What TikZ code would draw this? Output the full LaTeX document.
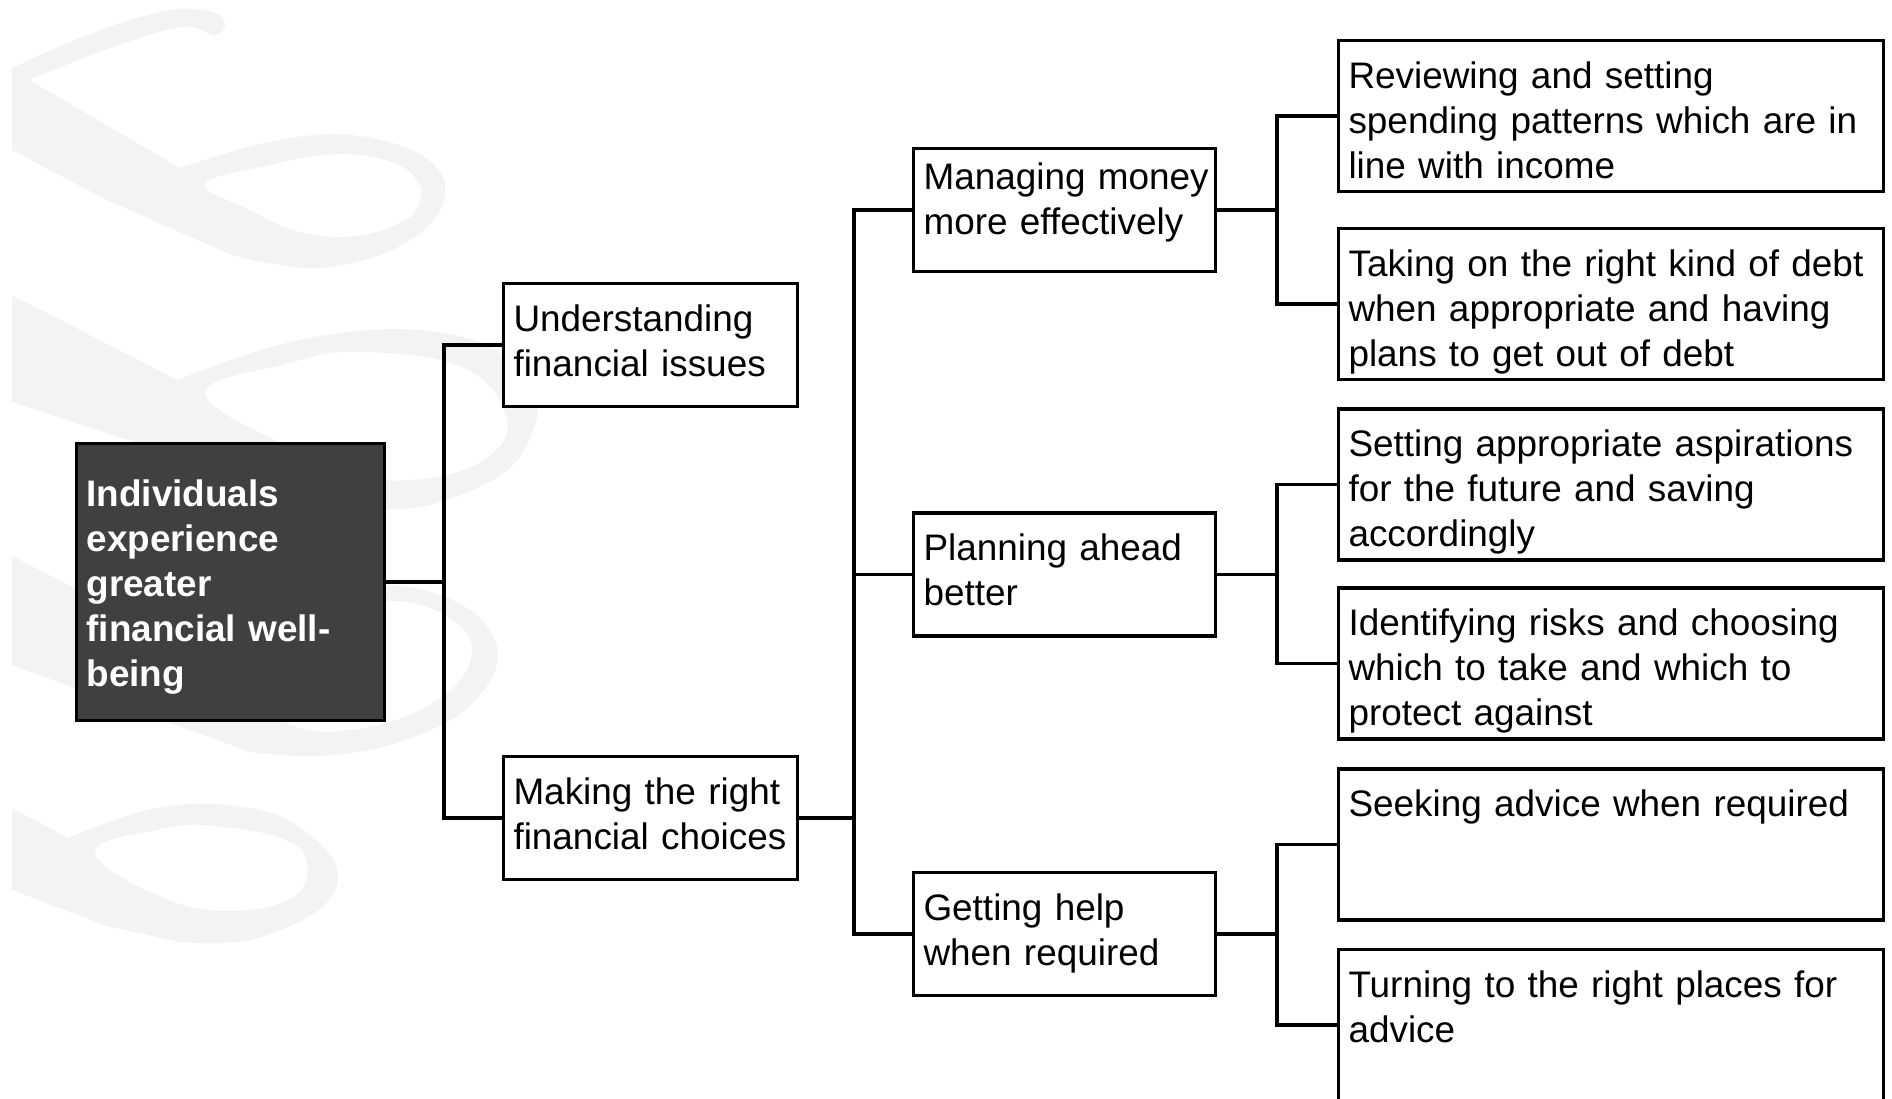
\documentclass[tikz,border=0pt]{standalone}
\usepackage{fontspec}
\setmainfont{Liberation Sans}
\definecolor{rootfill}{RGB}{64,64,64}
\definecolor{wmgrey}{RGB}{243,243,243}
\tikzset{
  box/.style={draw=black,line width=3.5pt,fill=white,align=left,
              inner xsep=10pt,inner ysep=8pt,font=\fontsize{36.9}{45}\selectfont},
  topbox/.style={box,text height=39.5pt},
  rootbox/.style={box,fill=rootfill,text=white,text width=288pt,
                  text height=55pt,text depth=206pt,
                  font=\fontsize{36.9}{45}\selectfont\bfseries},
  lvlbox/.style={topbox,text width=274pt,text depth=67.5pt},
  midbox/.style={topbox,text width=282pt,text depth=67.5pt},
  leafbox/.style={topbox,text width=525pt,text depth=95.5pt},
  link/.style={line width=3.5pt},
  wm/.style={fill=wmgrey,draw=none},
}

\begin{document}
\begin{tikzpicture}[x=1pt,y=-1pt]
  \useasboundingbox (0,0) rectangle (1892,1098);

  % watermark
  \fill[wm,even odd rule]
    (12,150) -- plot[smooth,tension=0.6] coordinates {(12,68) (70,42) (130,20) (180,9) (215,13) (225,25) (214,35) (182,27) (110,48) (29,80)}
    -- (180,168)
    -- plot[smooth,tension=0.6] coordinates {(180,168) (260,144) (336,134) (405,147) (440,172) (444,200) (425,229) (380,255) (318,268) (262,262) (232,255)}
    -- (107,200) -- cycle
    plot[smooth cycle,tension=0.7] coordinates {(205,184) (270,165) (336,154) (392,162) (418,182) (420,201) (404,221) (355,236) (300,232) (250,210)};
  \fill[wm,even odd rule]
    (12,402) -- (12,295) -- (177,380)
    -- plot[smooth,tension=0.6] coordinates {(177,380) (286,343) (393,329) (482,343) (530,385) (536,421) (505,472) (421,507) (339,505) (290,493)}
    -- cycle
    plot[smooth cycle,tension=0.7] coordinates {(205,393) (286,364) (357,352) (464,368) (507,421) (482,461) (421,479) (357,475) (286,446)};
  \fill[wm,even odd rule]
    (12,665) -- (12,556) -- (177,640)
    -- plot[smooth,tension=0.6] coordinates {(177,640) (290,598) (393,585) (470,610) (498,658) (464,711) (390,745) (314,756) (250,752)}
    -- cycle
    plot[smooth cycle,tension=0.7] coordinates {(200,652) (290,614) (393,601) (455,622) (471,658) (436,701) (357,729) (280,720)};
  \fill[wm,even odd rule]
    (12,890) -- (12,808) -- (68,838)
    -- plot[smooth,tension=0.6] coordinates {(68,838) (143,811) (214,804) (286,819) (336,865) (321,908) (250,940) (179,942)}
    -- (107,926) -- cycle
    plot[smooth cycle,tension=0.7] coordinates {(95,852) (161,829) (214,826) (286,840) (307,865) (293,897) (232,911) (161,897)};

  \node[rootbox] (root) at (230.5,582)
    {Individuals\\experience\\greater\\financial well-\\being};

  \node[lvlbox] (underst) at (650.5,345) {Understanding\\financial issues};
  \node[lvlbox] (choices) at (650.5,818) {Making the right\\financial~choices};

  \node[midbox,text height=32.5pt,text depth=74.5pt] (money) at (1064.5,210)
    {Managing~money\\more effectively};
  \node[midbox] (plan) at (1064.5,574.5) {Planning ahead\\better};
  \node[midbox] (help) at (1064.5,934) {Getting help\\when required};

  \node[leafbox] (spend)  at (1611,116)
    {Reviewing and setting\\spending patterns which are in\\line with income};
  \node[leafbox] (debt)   at (1611,304)
    {Taking on the right kind of debt\\when appropriate and having\\plans to get out of debt};
  \node[leafbox] (aspire) at (1611,484.5)
    {Setting appropriate aspirations\\for the future and saving\\accordingly};
  \node[leafbox] (risk)   at (1611,663.5)
    {Identifying risks and choosing\\which to take and which to\\protect against};
  \node[leafbox] (advice) at (1611,844.5) {Seeking advice when required};
  \node[leafbox] (places) at (1611,1025) {Turning to the right places for\\advice};

  % forks
  \coordinate (fork1) at (444,582);
  \coordinate (fork2) at (854,818);
  \coordinate (fork3) at (1277,210);
  \coordinate (fork4) at (1277,574.5);
  \coordinate (fork5) at (1277,934);

  \draw[link] (root.east) -- (fork1);
  \foreach \n in {underst,choices} \draw[link] (fork1) |- (\n.west);
  \draw[link] (choices.east) -- (fork2);
  \foreach \n in {money,plan,help} \draw[link] (fork2) |- (\n.west);
  \draw[link] (money.east) -- (fork3);
  \foreach \n in {spend,debt} \draw[link] (fork3) |- (\n.west);
  \draw[link] (plan.east) -- (fork4);
  \foreach \n in {aspire,risk} \draw[link] (fork4) |- (\n.west);
  \draw[link] (help.east) -- (fork5);
  \foreach \n in {advice,places} \draw[link] (fork5) |- (\n.west);
\end{tikzpicture}
\end{document}
